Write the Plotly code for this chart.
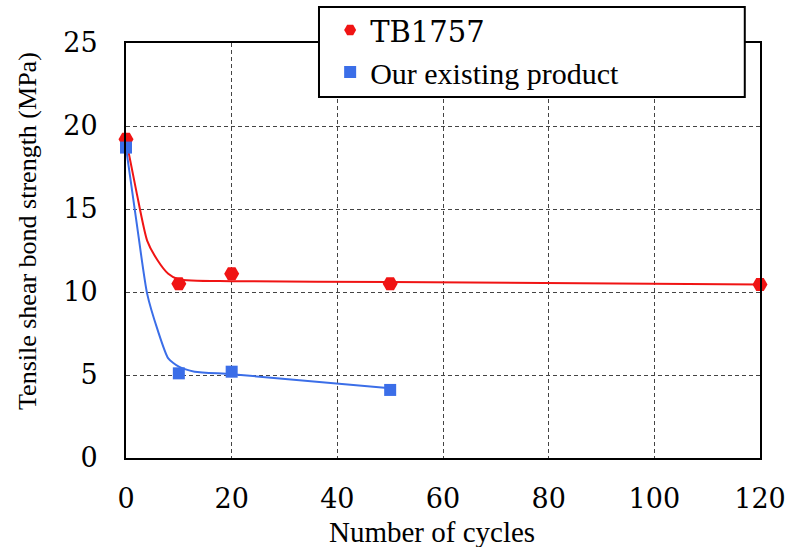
import plotly.graph_objects as go

# Measured points
cycles_tb = [0, 10, 20, 50, 120]
strength_tb = [19.2, 10.5, 11.1, 10.5, 10.45]
cycles_ex = [0, 10, 20, 50]
strength_ex = [18.7, 5.1, 5.2, 4.1]

# Trend lines
trend_tb_x = [0, 2, 4, 6, 8, 10, 20, 50, 120]
trend_tb_y = [19.2, 16.0, 13.1, 11.9, 11.1, 10.75, 10.65, 10.6, 10.45]
trend_ex_x = [0, 2, 4, 6, 8, 10, 13, 20, 50]
trend_ex_y = [18.7, 14.2, 9.9, 7.7, 6.0, 5.5, 5.2, 5.05, 4.2]

x_ticks = [0, 20, 40, 60, 80, 100, 120]
y_ticks = [0, 5, 10, 15, 20, 25]

x_title = "Number of cycles"
y_title = "Tensile shear bond strength (MPa)"

RED = "#f01414"
BLUE = "#3b6ee8"

fig = go.Figure()
fig.add_trace(go.Scatter(x=trend_tb_x, y=trend_tb_y, mode="lines",
                         line=dict(color=RED, width=2, shape="spline", smoothing=0.6),
                         showlegend=False, hoverinfo="skip"))
fig.add_trace(go.Scatter(x=trend_ex_x, y=trend_ex_y, mode="lines",
                         line=dict(color=BLUE, width=2, shape="spline", smoothing=0.6),
                         showlegend=False, hoverinfo="skip"))
fig.add_trace(go.Scatter(x=cycles_tb, y=strength_tb, mode="markers",
                         name="<span style='font-family:DejaVu Serif;font-size:29px'>TB1757</span>",
                         marker=dict(color=RED, size=15, symbol="hexagon2"), cliponaxis=False))
fig.add_trace(go.Scatter(x=cycles_ex, y=strength_ex, mode="markers", name="Our existing product",
                         marker=dict(color=BLUE, size=12, symbol="square"), cliponaxis=False))

fig.add_shape(type="rect", xref="paper", yref="paper",
              x0=0.3044, x1=0.976, y0=0.870, y1=1.0867,
              line=dict(color="black", width=2), fillcolor="white", layer="above")

# Axis titles
fig.add_annotation(text=x_title, xref="paper", yref="paper", x=0.4826, y=-0.178,
                   xanchor="center", yanchor="middle", showarrow=False,
                   font=dict(family="Liberation Serif", size=29, color="black"))
fig.add_annotation(text=y_title, xref="paper", yref="paper", x=-0.1546, y=0.547,
                   xanchor="center", yanchor="middle", showarrow=False, textangle=-90,
                   font=dict(family="Liberation Serif", size=26, color="black"))

axis_common = dict(showgrid=True, gridcolor="#444", griddash="4px,3px", gridwidth=1,
                   showline=True, linecolor="black", linewidth=2, mirror=True,
                   zeroline=False, ticks="outside", tickcolor="rgba(0,0,0,0)",
                   automargin=False,
                   tickfont=dict(family="DejaVu Serif", size=27, color="black"))

fig.update_layout(
    width=789, height=547,
    margin=dict(l=126, r=29, t=43, b=89, autoexpand=False),
    paper_bgcolor="white", plot_bgcolor="white",
    xaxis=dict(range=[0, 120], tickvals=x_ticks, ticklen=16, **axis_common),
    yaxis=dict(range=[0, 25], tickvals=y_ticks, ticklen=21, **axis_common),
    legend=dict(x=0.322, y=1.094, xanchor="left", yanchor="top",
                bgcolor="rgba(0,0,0,0)", borderwidth=0,
                font=dict(family="Liberation Serif", size=30, color="black"),
                itemsizing="constant", tracegroupgap=0),
    showlegend=True,
)

fig.write_html("out.html", config={"displayModeBar": False},
               post_script="document.body.style.margin='0';document.body.style.overflow='hidden';")
